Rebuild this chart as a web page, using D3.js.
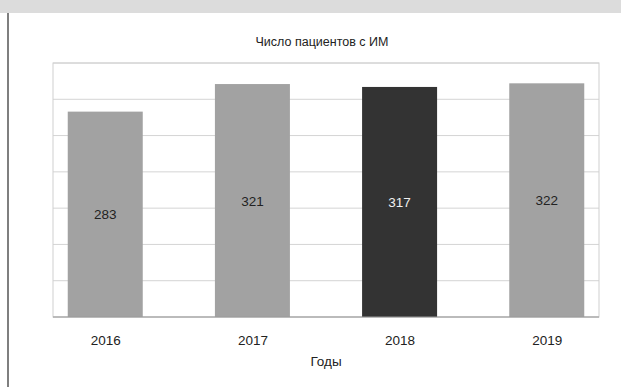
<!DOCTYPE html>
<html><head><meta charset="utf-8">
<script src="https://cdn.jsdelivr.net/npm/d3@7"></script>
<style>html,body{margin:0;padding:0;background:#fff;}svg{display:block;}</style>
</head><body>
<script>
const years = ["2016", "2017", "2018", "2019"];
const patients = [283, 321, 317, 322];
const highlight = ["2018"];
const yTicks = [0, 50, 100, 150, 200, 250, 300, 350];
const chartTitle = "Число пациентов с ИМ";
const xTitle = "Годы";

const W = 621, H = 387;
const m = {left: 53, right: 22, top: 63, bottom: 70};
const svg = d3.select("body").append("svg").attr("width", W).attr("height", H);
const font = "'Liberation Sans', Arial, sans-serif";

// header bar and left border
svg.append("rect").attr("x", 0).attr("y", 0).attr("width", W).attr("height", 13).attr("fill", "#dcdcdc");
svg.append("line").attr("x1", 8).attr("x2", 8).attr("y1", 13).attr("y2", H).attr("stroke", "#555").attr("stroke-width", 1.5);

const x = d3.scalePoint().domain(years).range([m.left, W - m.right]).padding(0.355);
const y = d3.scaleLinear().domain([0, 350]).range([H - m.bottom, m.top]);

// gridlines
svg.append("g").selectAll("line").data(yTicks).join("line")
  .attr("x1", m.left).attr("x2", W - m.right)
  .attr("y1", d => y(d)).attr("y2", d => y(d))
  .attr("stroke", "#d4d4d4").attr("stroke-width", 1);
// frame
svg.append("rect").attr("x", m.left).attr("y", m.top)
  .attr("width", W - m.right - m.left).attr("height", y(0) - m.top)
  .attr("fill", "none").attr("stroke", "#cfcfcf");

const bw = 75;
const data = years.map((yr, i) => ({yr, v: patients[i]}));
svg.append("g").selectAll("rect").data(data).join("rect")
  .attr("x", d => x(d.yr) - bw / 2).attr("width", bw)
  .attr("y", d => y(d.v)).attr("height", d => y(0) - y(d.v))
  .attr("fill", d => highlight.includes(d.yr) ? "#333333" : "#a2a2a2");

svg.append("line").attr("x1", m.left).attr("x2", W - m.right)
  .attr("y1", y(0)).attr("y2", y(0)).attr("stroke", "#9a9a9a");

svg.append("g").selectAll("text").data(data).join("text")
  .attr("x", d => x(d.yr)).attr("y", d => (y(d.v) + y(0)) / 2 + 5)
  .attr("text-anchor", "middle").attr("font-family", font).attr("font-size", 13.5)
  .attr("fill", d => highlight.includes(d.yr) ? "#f0f0f0" : "#222")
  .text(d => d.v);

// x axis labels
const xAxis = d3.axisBottom(x).tickSize(0).tickPadding(0);
const gx = svg.append("g").attr("transform", `translate(0,${y(0)})`).call(xAxis);
gx.select(".domain").remove();
gx.selectAll("text").attr("font-family", font).attr("font-size", 13.5).attr("fill", "#222")
  .attr("dy", null).attr("y", 28);

svg.append("text").attr("x", 326).attr("y", 366).attr("text-anchor", "middle")
  .attr("font-family", font).attr("font-size", 13.5).attr("fill", "#222").text(xTitle);
svg.append("text").attr("x", 322).attr("y", 46).attr("text-anchor", "middle")
  .attr("font-family", font).attr("font-size", 12.5).attr("fill", "#222").text(chartTitle);
</script>
</body></html>
